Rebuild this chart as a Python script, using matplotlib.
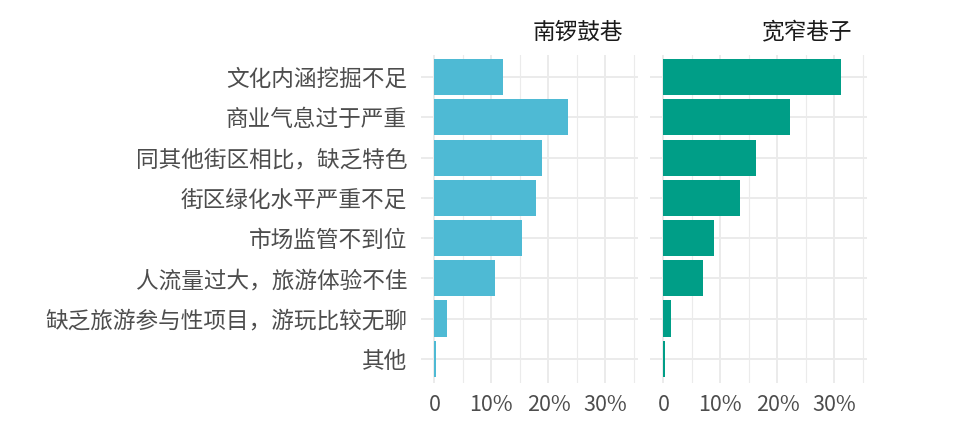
import matplotlib
matplotlib.use("Agg")
import matplotlib.pyplot as plt
import numpy as np

plt.rcParams['font.family'] = ['Noto Sans CJK SC', 'DejaVu Sans']

categories = ["文化内涵挖掘不足", "商业气息过于严重", "同其他街区相比，缺乏特色",
              "街区绿化水平严重不足", "市场监管不到位", "人流量过大，旅游体验不佳",
              "缺乏旅游参与性项目，游玩比较无聊", "其他"]
panels = ["南锣鼓巷", "宽窄巷子"]
nanluo = [12.0, 23.4, 18.9, 17.8, 15.3, 10.6, 2.2, 0.25]
kuanzhai = [31.2, 22.2, 16.2, 13.5, 8.8, 6.9, 1.25, 0.3]
colors = ["#4EBAD4", "#009E87"]
xticks = [0, 10, 20, 30]
xticklabels = ["0", "10%", "20%", "30%"]

fig = plt.figure(figsize=(9.57, 4.34), dpi=100)
W, H = 957, 434
bottom = 1 - 383 / H
height = 328 / H
lefts = [421, 650]
pw = 217
grid_c = "#EBEBEB"
txt_c = "#4D4D4D"

ypos = np.arange(len(categories))
for i, (name, vals) in enumerate(zip(panels, [nanluo, kuanzhai])):
    ax = fig.add_axes([lefts[i] / W, bottom, pw / W, height])
    ax.set_xlim(-2.35, 35.7)
    ax.set_ylim(len(categories) - 0.4, -0.55)
    for x in [5, 15, 25, 35]:
        ax.axvline(x, color=grid_c, lw=0.8, zorder=0)
    for x in xticks:
        ax.axvline(x, color=grid_c, lw=1.4, zorder=0)
    for y in ypos:
        ax.axhline(y, color=grid_c, lw=1.4, zorder=0)
    ax.barh(ypos, vals, height=0.9, color=colors[i], zorder=2)
    for s in ax.spines.values():
        s.set_visible(False)
    ax.set_xticks(xticks)
    ax.set_xticklabels(xticklabels)
    ax.set_yticks(ypos)
    if i == 0:
        ax.set_yticklabels(categories)
    else:
        ax.set_yticklabels([])
    ax.tick_params(axis='both', length=0, labelcolor=txt_c)
    ax.tick_params(axis='x', labelsize=15.5, pad=8)
    ax.tick_params(axis='y', labelsize=16.3, pad=10)
    ax.text(1 - 15 / pw, 1 + 23 / 328, name, transform=ax.transAxes,
            ha='right', va='center', fontsize=16.3, color="#1A1A1A")

fig.savefig("out.png", dpi=100, facecolor="white")
